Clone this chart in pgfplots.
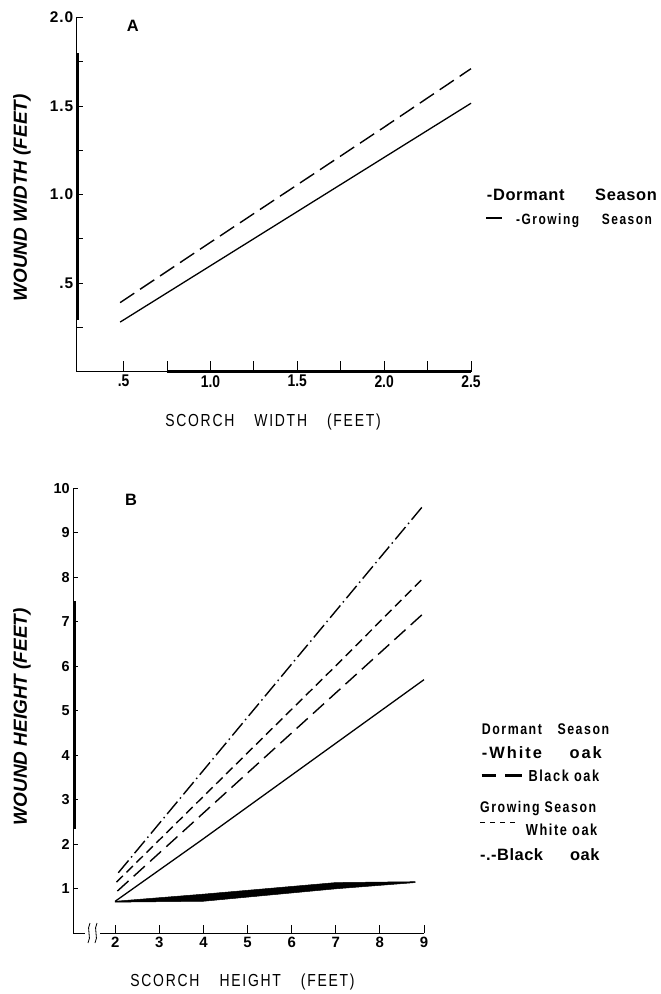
\documentclass[border=0pt]{standalone}
\usepackage{fontspec}
\setmainfont{Liberation Sans}
\newfontfamily\nar[FakeStretch=0.82]{Liberation Sans}
\newfontfamily\spc[FakeStretch=0.8,LetterSpace=10]{Liberation Sans}
\usepackage{pgfplots}
\pgfplotsset{compat=1.18}

\pgfplotsset{
  panel/.style={
    scale only axis, anchor=south west,
    axis lines=left, axis line style={-, line width=0.8bp},
    tick align=inside,
    tick style={line width=0.8bp, black},
    clip=false,
    /pgf/number format/assume math mode=true,
  },
}
\tikzset{lab/.style={inner sep=0pt, anchor=base west}}

\begin{document}
\begin{tikzpicture}
\path[use as bounding box] (0,0) rectangle (661bp,-994bp);

% ---------- panel A ----------
\begin{axis}[panel,
    at={(76.7bp,-371.7bp)}, width=394.3bp, height=354.4bp,
    xmin=0.23, xmax=2.5, ymin=0, ymax=2,
    major tick length=11bp,
    xtick={0.5,0.75,1,1.25,1.5,1.75,2,2.25,2.5},
    xticklabels={.5,,1.0,,1.5,,2.0,,2.5},
    ytick=\empty,
    extra y ticks={0.25,0.5,0.75,1,1.25,1.5,1.75,2},
    extra y tick labels={,.5,,1.0,,1.5,,2.0},
    extra y tick style={major tick length=6bp,
        yticklabel style={font=\bfseries\fontsize{15.5}{15.5}\selectfont\addfontfeatures{LetterSpace=6}}},
    xticklabel style={font=\nar\bfseries\fontsize{17}{17}\selectfont},
]
% scan artefacts on the axes
\addplot[line width=3bp] coordinates {(0.235,0.29)(0.235,1.8)};
\addplot[line width=2.5bp] coordinates {(0.75,0)(2.5,0)};
% dormant season
\addplot[line width=1.3bp] coordinates {(0.48,0.28)(2.5,1.515)};
% growing season
\addplot[line width=1.4bp, dash pattern=on 17bp off 7bp]
    coordinates {(0.48,0.39)(1.0,0.73)(1.2,0.86)(2.0,1.38)(2.5,1.71)};
\end{axis}

\node[lab, font=\bfseries\fontsize{16.5}{16.5}\selectfont] at (126.7bp,-31.7bp) {A};
\node[font=\bfseries\itshape\fontsize{19}{19}\selectfont, rotate=90] at (22bp,-198bp) {WOUND WIDTH (FEET)};
\node[font=\spc\fontsize{17.5}{17.5}\selectfont] at (273bp,-421.7bp) {SCORCH\hspace{20bp}WIDTH\hspace{20bp}(FEET)};

\node[lab, font=\bfseries\fontsize{16.5}{16.5}\selectfont\addfontfeatures{LetterSpace=4}] at (486.7bp,-200bp) {-Dormant};
\node[lab, font=\bfseries\fontsize{16.5}{16.5}\selectfont\addfontfeatures{LetterSpace=4}] at (595bp,-200bp) {Season};
\draw[line width=2.2bp] (486bp,-217.7bp) -- (501.7bp,-217.7bp);
\node[lab, font=\spc\bfseries\fontsize{15}{15}\selectfont] at (516bp,-224bp) {-Growing};
\node[lab, font=\spc\bfseries\fontsize{15}{15}\selectfont] at (601.7bp,-224bp) {Season};

% ---------- panel B ----------
\begin{axis}[panel,
    at={(73.3bp,-933.3bp)}, width=350.7bp, height=445bp,
    xmin=1.05, xmax=9, ymin=0, ymax=10,
    major tick length=8bp,
    xtick={2,3,4,5,6,7,8,9}, xticklabels={2,3,4,5,6,7,8,9},
    ytick=\empty,
    extra y ticks={1,2,3,4,5,6,7,8,9,10},
    extra y tick labels={1,2,3,4,5,6,7,8,9,10},
    extra y tick style={major tick length=5bp,
        yticklabel style={font=\bfseries\fontsize{14.5}{14.5}\selectfont}},
    xticklabel style={font=\bfseries\fontsize{15}{15}\selectfont},
]
% scan artefact on the y axis
\addplot[line width=3bp] coordinates {(1.08,2.35)(1.08,7.47)};
% dormant season, black oak (smeared wedge)
\addplot[fill=black, draw=black, line width=0.5bp]
    coordinates {(2,0.72)(4,0.88)(7,1.14)(8.8,1.16)(8.8,1.14)(7,1.0)(4,0.72)(2,0.70)} -- cycle;
% dormant season, white oak
\addplot[line width=1.3bp] coordinates {(2,0.72)(3.95,2.09)(9,5.7)};
% dormant season, black oak
\addplot[line width=1.4bp, dash pattern=on 15bp off 7bp] coordinates {(2.05,0.95)(9,7.2)};
% growing season, white oak
\addplot[line width=1.4bp, dash pattern=on 9bp off 5bp] coordinates {(2.03,1.15)(7.05,6.06)(9,8.0)};
% growing season, black oak
\addplot[line width=1.4bp, dash pattern=on 16bp off 4bp on 1.5bp off 4bp] coordinates {(2.07,1.36)(9,9.63)};
\end{axis}

% axis break
\fill[white] (85bp,-930bp) rectangle (100bp,-937bp);
\draw[line width=0.8bp] (90bp,-923bp) .. controls (86bp,-929bp) and (92bp,-937bp) .. (88bp,-943bp);
\draw[line width=0.8bp] (97bp,-923bp) .. controls (93bp,-929bp) and (99bp,-937bp) .. (95bp,-943bp);

\node[lab, font=\bfseries\fontsize{16.5}{16.5}\selectfont] at (125bp,-505bp) {B};
\node[font=\bfseries\itshape\fontsize{19}{19}\selectfont, rotate=90] at (22bp,-716.7bp) {WOUND HEIGHT (FEET)};
\node[font=\spc\fontsize{17.5}{17.5}\selectfont] at (242.5bp,-981.7bp) {SCORCH\hspace{20bp}HEIGHT\hspace{20bp}(FEET)};

\node[lab, font=\spc\bfseries\fontsize{15.5}{15.5}\selectfont] at (481.7bp,-734bp) {Dormant};
\node[lab, font=\spc\bfseries\fontsize{15.5}{15.5}\selectfont] at (557.3bp,-734bp) {Season};
\node[lab, font=\bfseries\fontsize{16.5}{16.5}\selectfont] at (481.7bp,-758.3bp) {\addfontfeatures{LetterSpace=12}-White};
\node[lab, font=\bfseries\fontsize{16.5}{16.5}\selectfont] at (569.3bp,-758.3bp) {\addfontfeatures{LetterSpace=12}oak};
\draw[line width=3bp] (481.7bp,-775bp) -- (496bp,-775bp);
\draw[line width=3bp] (505bp,-775bp) -- (521.7bp,-775bp);
\node[lab, font=\spc\bfseries\fontsize{16}{16}\selectfont] at (528.3bp,-781.7bp) {Black oak};
\node[lab, font=\spc\bfseries\fontsize{15.5}{15.5}\selectfont] at (480bp,-812.3bp) {Growing Season};
\draw[line width=1.3bp, dash pattern=on 5bp off 5bp] (480bp,-822.7bp) -- (515bp,-822.7bp);
\node[lab, font=\spc\bfseries\fontsize{16}{16}\selectfont] at (525.7bp,-835bp) {White oak};
\node[lab, font=\bfseries\fontsize{16.5}{16.5}\selectfont\addfontfeatures{LetterSpace=3}] at (480bp,-860bp) {-.-Black};
\node[lab, font=\bfseries\fontsize{16.5}{16.5}\selectfont\addfontfeatures{LetterSpace=3}] at (570bp,-860bp) {oak};
\end{tikzpicture}
\end{document}
